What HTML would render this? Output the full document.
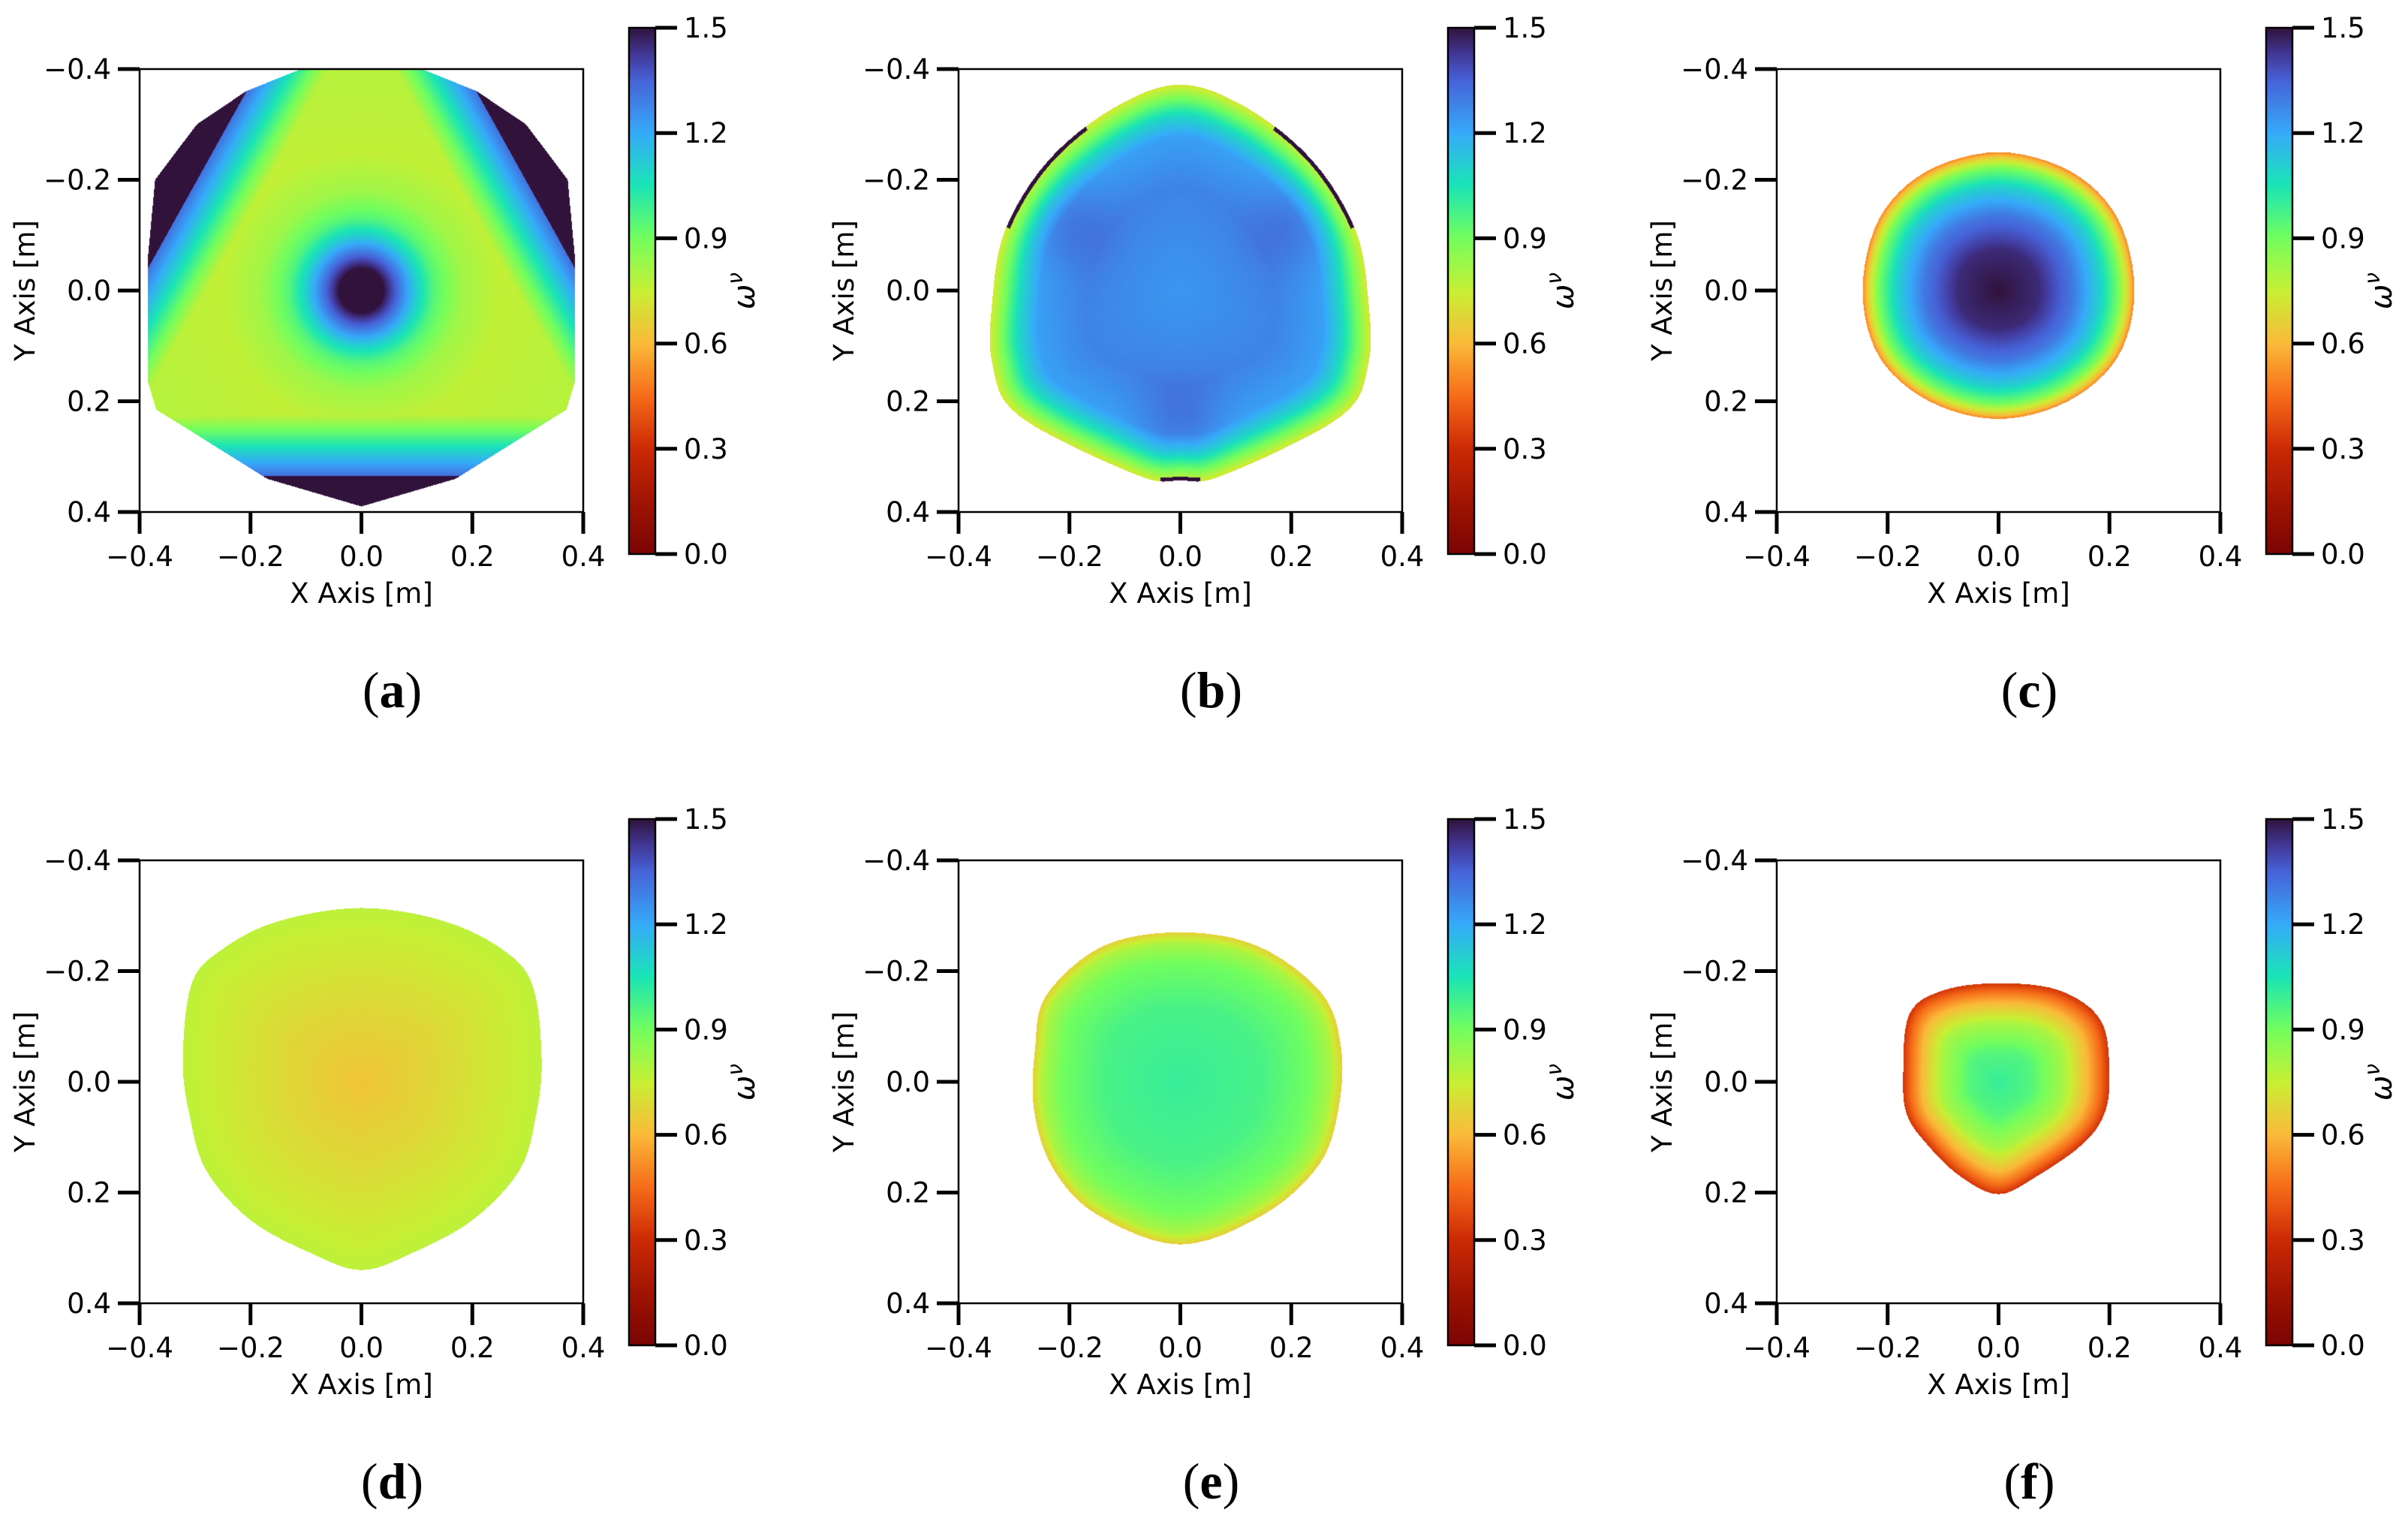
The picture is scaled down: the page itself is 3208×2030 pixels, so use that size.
<!DOCTYPE html>
<html><head><meta charset="utf-8">
<style>
html,body{margin:0;padding:0;background:#fff;}
#wrap{position:relative;width:3208px;height:2030px;overflow:hidden;background:#fff;}
canvas{position:absolute;}
svg{position:absolute;left:0;top:0;}
text{font-family:"DejaVu Sans","Liberation Sans",sans-serif;fill:#000;}
</style></head>
<body>
<div id="wrap">
<svg id="ov" width="3208" height="2030"></svg>
</div>
<script>
// ---- data ----
const panelLabels = ["a","b","c","d","e","f"];
const xTicks = [-0.4,-0.2,0.0,0.2,0.4];
const yTicks = [-0.4,-0.2,0.0,0.2,0.4];
const xTickLabels = ["\u22120.4","\u22120.2","0.0","0.2","0.4"];
const yTickLabels = ["\u22120.4","\u22120.2","0.0","0.2","0.4"];
const cbTicks = [0.0,0.3,0.6,0.9,1.2,1.5];
const cbTickLabels = ["0.0","0.3","0.6","0.9","1.2","1.5"];

// boundary polygons (metres; y positive = down in plot)
const polyAX = [-0.06,0.06,0.208,0.297,0.372,0.385,0.385,0.37,0.17,0.0,-0.17,-0.37,-0.385,-0.385,-0.372,-0.297,-0.208];
const polyAY = [-0.42,-0.42,-0.36,-0.30,-0.20,-0.06,0.165,0.215,0.34,0.39,0.34,0.215,0.165,-0.06,-0.20,-0.30,-0.36];
const polyBX = [0.0,0.12,0.238,0.316,0.339,0.339,0.289,0.079,0.0,-0.079,-0.289,-0.339,-0.339,-0.316,-0.238,-0.12];
const polyBY = [-0.372,-0.33,-0.235,-0.109,0.018,0.133,0.228,0.333,0.343,0.333,0.228,0.133,0.018,-0.109,-0.235,-0.33];
const polyCX = [0.0,0.13,0.215,0.245,0.215,0.125,0.0,-0.125,-0.215,-0.245,-0.215,-0.13];
const polyCY = [-0.25,-0.215,-0.13,0.0,0.12,0.2,0.232,0.2,0.12,0.0,-0.13,-0.215];
const polyDX = [0.0,0.15,0.26,0.31,0.325,0.315,0.285,0.2,0.09,0.0,-0.09,-0.2,-0.28,-0.31,-0.322,-0.306,-0.25,-0.15];
const polyDY = [-0.314,-0.29,-0.235,-0.17,-0.04,0.06,0.16,0.25,0.31,0.34,0.31,0.25,0.16,0.06,-0.04,-0.178,-0.24,-0.29];
const polyEX = [0.0,0.14,0.255,0.29,0.285,0.25,0.15,0.0,-0.15,-0.23,-0.264,-0.262,-0.242,-0.14];
const polyEY = [-0.27,-0.245,-0.16,-0.06,0.05,0.15,0.24,0.294,0.24,0.156,0.05,-0.06,-0.156,-0.245];
const polyFX = [0.0,0.11,0.185,0.2,0.19,0.15,0.07,0.0,-0.07,-0.128,-0.165,-0.172,-0.161,-0.1];
const polyFY = [-0.178,-0.165,-0.11,-0.011,0.06,0.114,0.17,0.203,0.17,0.114,0.06,-0.011,-0.122,-0.165];

// dark wedge lines in panel a (x1,y1,x2,y2): dark on far side from centre
const darkAX1 = [-0.385,0.385,-0.2];
const darkAY1 = [-0.04,-0.04,0.335];
const darkAX2 = [-0.235,0.235,0.2];
const darkAY2 = [-0.31,-0.31,0.335];
// thin dark rim angle ranges for panel b (deg, screen coords)
const rimBStart = [200,300,84];
const rimBEnd = [240,340,96];

// radial value profiles
const profPosA = [0,0.04,0.07,0.10,0.13,0.18,0.25,0.32,0.40];
const profValA = [1.5,1.5,1.3,1.1,0.95,0.82,0.76,0.77,0.78];
const profPosB = [0,0.5,0.75,0.85,0.93,1.0];
const profValB = [1.24,1.28,1.22,1.08,0.9,0.72];
const profPosC = [0,0.3,0.55,0.75,0.88,0.95,1.0];
const profValC = [1.5,1.45,1.3,1.1,0.9,0.7,0.5];
const profPosD = [0,0.4,0.8,1.0];
const profValD = [0.63,0.68,0.74,0.77];
const profPosE = [0,0.5,0.8,0.93,1.0];
const profValE = [1.0,0.97,0.9,0.8,0.66];
const profPosF = [0,0.3,0.6,0.8,0.92,1.0];
const profValF = [1.0,0.95,0.8,0.6,0.45,0.32];

// turbo colormap key colours
const turboPos = [0,0.05,0.1,0.2,0.3,0.4,0.5,0.6,0.7,0.8,0.9,1.0];
const turboR = [48,66,70,54,26,114,200,250,246,203,160,122];
const turboG = [18,55,98,170,228,254,239,186,107,42,20,4];
const turboB = [59,150,215,249,182,94,52,57,25,4,2,3];

const panels = [
 {px:polyAX,py:polyAY,pp:profPosA,pv:profValA,metric:true,smooth:false},
 {px:polyBX,py:polyBY,pp:profPosB,pv:profValB,smooth:true},
 {px:polyCX,py:polyCY,pp:profPosC,pv:profValC,smooth:true},
 {px:polyDX,py:polyDY,pp:profPosD,pv:profValD,smooth:true},
 {px:polyEX,py:polyEY,pp:profPosE,pv:profValE,smooth:true},
 {px:polyFX,py:polyFY,pp:profPosF,pv:profValF,smooth:true}
];

// ---- layout ----
const AX_W=591, AX_H=590, X0=186, Y0=92, DX=1090.5, DY=1054;
const CB_DX=652, CB_W=35, CB_TOP=37, CB_BOT=738;
const VMAX=1.5;

function turbo(x){
  x=Math.max(0,Math.min(1,x));
  for(let i=1;i<turboPos.length;i++){
    if(x<=turboPos[i]){const t=(x-turboPos[i-1])/(turboPos[i]-turboPos[i-1]);
      return [turboR[i-1]+(turboR[i]-turboR[i-1])*t,turboG[i-1]+(turboG[i]-turboG[i-1])*t,turboB[i-1]+(turboB[i]-turboB[i-1])*t].map(Math.round);}
  }
  return [turboR[11],turboG[11],turboB[11]];
}
function cmap(v){return turbo(1-v/VMAX);}
function interpProf(pp,pv,x){
  if(x<=pp[0])return pv[0];
  for(let i=1;i<pp.length;i++){ if(x<=pp[i]){const t=(x-pp[i-1])/(pp[i]-pp[i-1]);return pv[i-1]+(pv[i]-pv[i-1])*t;} }
  return pv[pv.length-1];
}
function smoothPoly(PX,PY,sub){
  const n=PX.length,ox=[],oy=[];
  for(let i=0;i<n;i++){
    const p0=(i-1+n)%n,p1=i,p2=(i+1)%n,p3=(i+2)%n;
    for(let s=0;s<sub;s++){
      const t=s/sub,t2=t*t,t3=t2*t;
      const f=(a,b,c,d)=>0.5*((2*b)+(-a+c)*t+(2*a-5*b+4*c-d)*t2+(-a+3*b-3*c+d)*t3);
      ox.push(f(PX[p0],PX[p1],PX[p2],PX[p3]));oy.push(f(PY[p0],PY[p1],PY[p2],PY[p3]));
    }
  }
  return [ox,oy];
}
function rayRadius(PX,PY,dx,dy){
  let best=0;const n=PX.length;
  for(let i=0;i<n;i++){
    const ax=PX[i],ay=PY[i],bx=PX[(i+1)%n],by=PY[(i+1)%n];
    const ex=bx-ax,ey=by-ay;
    const den=dx*ey-dy*ex; if(Math.abs(den)<1e-12)continue;
    const t=(ax*ey-ay*ex)/den; const s=(ax*dy-ay*dx)/den;
    if(s>=-1e-9&&s<=1+1e-9&&t>best)best=t;
  }
  return best;
}
function signedLineDist(x,y,x1,y1,x2,y2){
  const nx=y2-y1, ny=-(x2-x1); const L=Math.hypot(nx,ny);
  let d=((x-x1)*nx+(y-y1)*ny)/L; const d0=((0-x1)*nx+(0-y1)*ny)/L;
  return d0>0?-d:d;
}

const svg=document.getElementById('ov');
const NS='http://www.w3.org/2000/svg';
function mk(tag,attrs,parent){const e=document.createElementNS(NS,tag);for(const k in attrs)e.setAttribute(k,attrs[k]);(parent||svg).appendChild(e);return e;}

const defs=mk('defs',{});
const grad=mk('linearGradient',{id:'cbg',x1:'0',y1:'1',x2:'0',y2:'0'},defs);
for(let i=0;i<=40;i++){const v=i/40*VMAX;const c=cmap(v);mk('stop',{offset:(i/40).toFixed(3),'stop-color':'rgb('+c.join(',')+')'},grad);}

panels.forEach((p,idx)=>{
  const col=idx%3,row=Math.floor(idx/3);
  const ax=Math.round(X0+col*DX), ay=Y0+row*DY;
  const sx=v=>ax+(v+0.4)/0.8*AX_W;
  const sy=v=>ay+(v+0.4)/0.8*AX_H;
  let PX=p.px,PY=p.py;
  if(p.smooth){const s=smoothPoly(p.px,p.py,6);PX=s[0];PY=s[1];}
  // precompute boundary radius per degree bin (fine)
  const NB=1440, Rtab=new Float32Array(NB);
  for(let b=0;b<NB;b++){const a=b/NB*2*Math.PI;Rtab[b]=rayRadius(PX,PY,Math.cos(a),Math.sin(a));}
  const cv=document.createElement('canvas');
  cv.width=AX_W;cv.height=AX_H;cv.style.left=ax+'px';cv.style.top=ay+'px';
  
  
  document.getElementById('wrap').insertBefore(cv,svg);
  const ctx=cv.getContext('2d');const img=ctx.createImageData(AX_W,AX_H);const d=img.data;
  for(let j=0;j<AX_H;j++){
    const ym=-0.4+(j+0.5)/AX_H*0.8;
    for(let i=0;i<AX_W;i++){
      const xm=-0.4+(i+0.5)/AX_W*0.8;
      const r=Math.hypot(xm,ym)+1e-9;
      let ang=Math.atan2(ym,xm); if(ang<0)ang+=2*Math.PI;
      const fb=ang/(2*Math.PI)*NB, b0=Math.floor(fb)%NB, b1=(b0+1)%NB, tt=fb-Math.floor(fb);
      const R=Rtab[b0]*(1-tt)+Rtab[b1]*tt;
      if(r>R)continue;
      let v;
      if(p.metric){
        v=interpProf(p.pp,p.pv,r);
        for(let k=0;k<darkAX1.length;k++){
          const sd=signedLineDist(xm,ym,darkAX1[k],darkAY1[k],darkAX2[k],darkAY2[k]);
          if(sd>=0){v=1.5;break;}
          v=Math.max(v,1.32-(-sd)*5);
        }
      } else {
        const rho=r/R;
        v=interpProf(p.pp,p.pv,rho);
        if(idx===1){
          const lob=[[-0.2,-0.12],[0.2,-0.12],[0,0.24]];
          for(const L of lob){const dd=Math.hypot(xm-L[0],ym-L[1]);v+=0.07*Math.exp(-dd*dd/0.006);}
          const deg=ang*180/Math.PI;
          for(let k=0;k<rimBStart.length;k++){ if(deg>=rimBStart[k]&&deg<=rimBEnd[k]&&R-r<0.007) v=1.5; }
        }
      }
      const c=cmap(v);const k=(j*AX_W+i)*4;d[k]=c[0];d[k+1]=c[1];d[k+2]=c[2];d[k+3]=255;
    }
  }
  ctx.putImageData(img,0,0);

  const g=mk('g',{});
  
  
  const frame=mk('rect',{x:ax,y:ay,width:AX_W,height:AX_H,fill:'none',stroke:'#000','stroke-width':2.5},g);
  
  
  xTicks.forEach((t,k)=>{
    const x=sx(t);
    const tl=mk('line',{x1:x,y1:ay+AX_H,x2:x,y2:ay+AX_H+29,stroke:'#000','stroke-width':5},g);
    
    
    const tx=mk('text',{x:x,y:ay+AX_H+72,'font-size':37,'text-anchor':'middle'},g);tx.textContent=xTickLabels[k];
    
    
  });
  yTicks.forEach((t,k)=>{
    const y=sy(t);
    const tl=mk('line',{x1:ax-29,y1:y,x2:ax,y2:y,stroke:'#000','stroke-width':5},g);
    
    
    const tx=mk('text',{x:ax-38,y:y+13,'font-size':37,'text-anchor':'end'},g);tx.textContent=yTickLabels[k];
    
    
  });
  const xl=mk('text',{x:ax+AX_W/2,y:ay+AX_H+121,'font-size':37,'text-anchor':'middle'},g);xl.textContent='X Axis [m]';
  
  
  const ylx=ax-140, yly=ay+AX_H/2;
  const yl=mk('text',{x:ylx,y:yly,'font-size':37,'text-anchor':'middle',transform:'rotate(-90 '+ylx+' '+yly+')'},g);yl.textContent='Y Axis [m]';
  
  
  const cbx=ax+CB_DX, cbt=CB_TOP+row*DY, cbb=CB_BOT+row*DY;
  const cb=mk('rect',{x:cbx,y:cbt,width:CB_W,height:cbb-cbt,fill:'url(#cbg)',stroke:'#000','stroke-width':2.5},g);
  
  
  cbTicks.forEach((t,k)=>{
    const y=cbb-(t/VMAX)*(cbb-cbt);
    const tl=mk('line',{x1:cbx+CB_W,y1:y,x2:cbx+CB_W+29,y2:y,stroke:'#000','stroke-width':5},g);
    
    
    const tx=mk('text',{x:cbx+CB_W+38,y:y+13,'font-size':37},g);tx.textContent=cbTickLabels[k];
    
    
  });
  const cx=cbx+CB_W+132, cy=cbt+(cbb-cbt)/2;
  const cl=mk('text',{x:cx,y:cy,'font-size':40,'font-style':'italic','text-anchor':'middle',transform:'rotate(-90 '+cx+' '+cy+')'},g);
  cl.textContent='\u03c9';
  const sup=mk('tspan',{'font-size':28,dy:-16},cl);sup.textContent='\u03bd';
  
  
  const cap=mk('text',{x:ax+AX_W/2+41,y:942+row*DY,'font-size':68,'text-anchor':'middle',style:'font-family:"Liberation Serif",serif'},g);
  cap.textContent='(';
  const b=mk('tspan',{'font-weight':'bold'},cap);b.textContent=panelLabels[idx];
  const cp=mk('tspan',{},cap);cp.textContent=')';
  
  
});
</script>
</body></html>
